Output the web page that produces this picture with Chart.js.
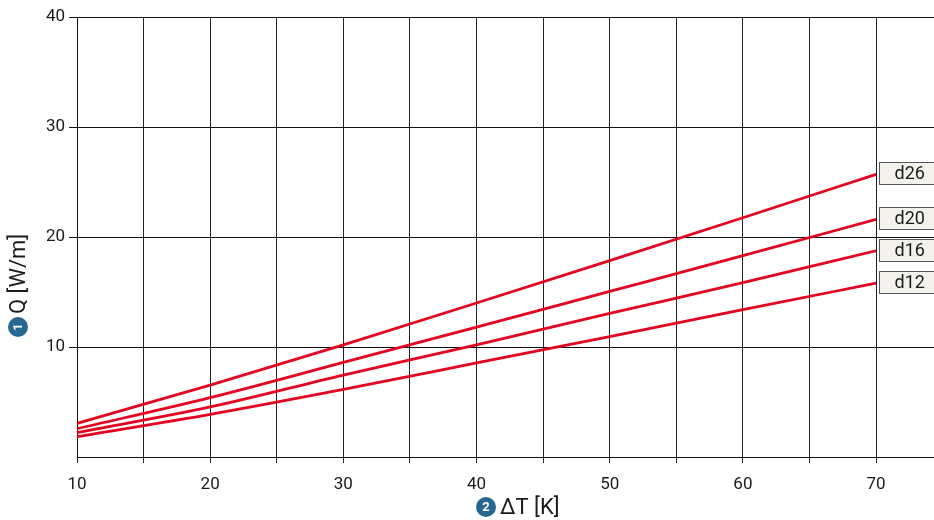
<!DOCTYPE html>
<html><head><meta charset="utf-8">
<script src="https://cdn.jsdelivr.net/npm/chart.js@4"></script>
<style>html,body{margin:0;padding:0;background:#fff}#wrap{width:934px;height:520px;position:relative}</style>
</head><body><div id="wrap"><canvas id="c" width="934" height="520"></canvas></div>
<script>
const deltaT = [10, 20, 30, 40, 50, 60, 70];
const d26 = [3.06, 6.53, 10.2, 14.0, 17.85, 21.75, 25.7];
const d20 = [2.57, 5.4, 8.6, 11.8, 15.05, 18.3, 21.6];
const d16 = [2.21, 4.55, 7.45, 10.2, 13.05, 15.85, 18.75];
const d12 = [1.85, 3.88, 6.15, 8.55, 10.95, 13.4, 15.8];
const seriesNames = ['d26', 'd20', 'd16', 'd12'];
const xTickLabels = [10, 20, 30, 40, 50, 60, 70];
const yTickLabels = [10, 20, 30, 40];
const yTitle = 'Q [W/m]';
const xTitle = 'ΔT [K]';

const RED = '#e3051f';
const BADGE = '#276892';
const FONT = 'Roboto, "DejaVu Sans", sans-serif';

const seriesValues = [d26, d20, d16, d12];
const datasets = seriesNames.map((n, i) => ({
  label: n,
  data: deltaT.map((x, j) => ({x: x, y: seriesValues[i][j]})),
  borderColor: RED,
  borderWidth: 2.8,
  pointRadius: 0,
  cubicInterpolationMode: 'monotone',
  fill: false,
  clip: false
}));

function badge(ctx, cx, cy, r, txt) {
  ctx.beginPath();
  ctx.arc(cx, cy, r, 0, Math.PI * 2);
  ctx.fillStyle = BADGE;
  ctx.fill();
  ctx.fillStyle = '#fff';
  ctx.font = 'bold 13px ' + FONT;
  ctx.textAlign = 'center';
  ctx.textBaseline = 'middle';
  ctx.fillText(txt, cx, cy + 1);
}

const annot = {
  id: 'annot',
  afterDatasetsDraw(chart) {
    const ctx = chart.ctx;
    ctx.save();
    chart.data.datasets.forEach((ds, i) => {
      const meta = chart.getDatasetMeta(i);
      const pt = meta.data[meta.data.length - 1];
      const bx = Math.round(pt.x) + 3.5, by = Math.round(pt.y) - 11.5;
      ctx.fillStyle = '#f3f2ec';
      ctx.fillRect(bx, by, 70, 22);
      ctx.strokeStyle = '#555';
      ctx.lineWidth = 1;
      ctx.strokeRect(bx, by, 70, 22);
      ctx.fillStyle = '#1a1a1a';
      ctx.font = '18px ' + FONT;
      ctx.textAlign = 'left';
      ctx.textBaseline = 'middle';
      ctx.fillText(ds.label, bx + 15, by + 12);
    });
    ctx.restore();
  },
  afterDraw(chart) {
    const ctx = chart.ctx;
    ctx.save();
    ctx.translate(18, 0);
    ctx.rotate(-Math.PI / 2);
    badge(ctx, -327, 0, 10, '1');
    ctx.fillStyle = '#1a1a1a';
    ctx.font = '22px ' + FONT;
    ctx.textAlign = 'left';
    ctx.textBaseline = 'middle';
    ctx.fillText(yTitle, -314, 1);
    ctx.restore();
    ctx.save();
    badge(ctx, 486, 507, 10, '2');
    ctx.fillStyle = '#1a1a1a';
    ctx.font = '22px ' + FONT;
    ctx.textAlign = 'left';
    ctx.textBaseline = 'middle';
    ctx.fillText(xTitle, 500, 508);
    ctx.restore();
  }
};

new Chart(document.getElementById('c'), {
  type: 'line',
  data: {datasets: datasets},
  plugins: [annot],
  options: {
    responsive: false,
    animation: false,
    events: [],
    layout: {padding: {top: 17, right: 0, left: 0, bottom: 0}},
    plugins: {legend: {display: false}, tooltip: {enabled: false}},
    scales: {
      x: {
        type: 'linear',
        min: 10,
        max: 74.35,
        afterBuildTicks(scale) {
          const t = [];
          for (let v = 10; v <= 70; v += 5) t.push({value: v});
          scale.ticks = t;
        },
        afterFit(scale) { scale.height = 63; },
        ticks: {
          autoSkip: false,
          maxRotation: 0,
          padding: 12,
          color: '#1a1a1a',
          font: {family: FONT, size: 17},
          callback: (v) => xTickLabels.includes(v) ? String(v) : ''
        },
        grid: {color: '#222', lineWidth: 1, tickLength: 6, tickColor: '#222'},
        border: {color: '#111', width: 1}
      },
      y: {
        type: 'linear',
        min: 0,
        max: 40,
        afterBuildTicks(scale) {
          scale.ticks = yTickLabels.map(v => ({value: v}));
        },
        afterFit(scale) { scale.width = 77; },
        ticks: {
          padding: 4,
          color: '#1a1a1a',
          font: {family: FONT, size: 17},
          callback: (v) => String(v)
        },
        grid: {color: '#111', lineWidth: 1, tickLength: 8, tickColor: '#111'},
        border: {color: '#111', width: 1}
      }
    }
  }
});
</script>
</body></html>
